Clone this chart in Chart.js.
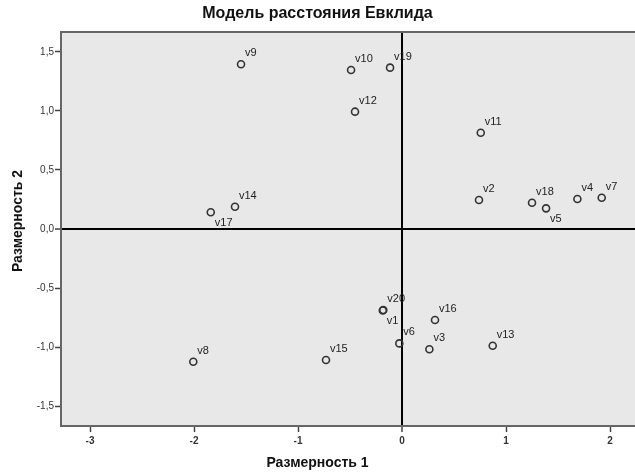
<!DOCTYPE html>
<html>
<head>
<meta charset="utf-8">
<script src="https://cdn.jsdelivr.net/npm/chart.js@4"></script>
<style>
  html, body { margin: 0; padding: 0; background: #fff; }
</style>
</head>
<body>
<canvas id="chart" width="635" height="473"></canvas>
<script>
// stimulus labels and their coordinates in the two dimensions
const pointNames = ['v1', 'v2', 'v3', 'v4', 'v5', 'v6', 'v7', 'v8', 'v9', 'v10',
                    'v11', 'v12', 'v13', 'v14', 'v15', 'v16', 'v17', 'v18', 'v19', 'v20'];
const dim1 = [-0.185, 0.74, 0.263, 1.686, 1.385, -0.026, 1.92, -2.007, -1.548, -0.49,
              0.757, -0.452, 0.872, -1.606, -0.731, 0.317, -1.839, 1.25, -0.115, -0.18];
const dim2 = [-0.69, 0.246, -1.019, 0.254, 0.175, -0.969, 0.265, -1.125, 1.396, 1.347,
              0.816, 0.994, -0.989, 0.189, -1.11, -0.771, 0.142, 0.223, 1.367, -0.686];
const xTicks = [-3, -2, -1, 0, 1, 2];
const yTicks = [-1.5, -1.0, -0.5, 0.0, 0.5, 1.0, 1.5];

const xTitle = 'Размерность 1';
const yTitle = 'Размерность 2';

// these labels sit under their marker instead of above it
const labelsBelow = ['v1', 'v5', 'v17'];

const FONT = "Arial, 'Liberation Sans', sans-serif";

const plotBackground = {
    id: 'plotBackground',
    beforeDraw(chart) {
        const { ctx, chartArea: a } = chart;
        ctx.save();
        ctx.fillStyle = '#e8e8e8';
        ctx.fillRect(a.left, a.top, a.right - a.left, a.bottom - a.top);
        ctx.restore();
    },
    beforeDatasetsDraw(chart) {
        const { ctx, chartArea: a } = chart;
        ctx.save();
        ctx.strokeStyle = '#666';
        ctx.lineWidth = 2;
        ctx.beginPath();
        ctx.moveTo(a.left, a.top);
        ctx.lineTo(a.right, a.top);
        ctx.stroke();
        ctx.restore();
    }
};

// axis titles are centred on the whole canvas in the original, not on the plot
const axisTitles = {
    id: 'axisTitles',
    afterDraw(chart) {
        const { ctx, width } = chart;
        ctx.save();
        ctx.font = 'bold 14px ' + FONT;
        ctx.fillStyle = '#111';
        ctx.textAlign = 'center';
        ctx.textBaseline = 'middle';
        ctx.fillText(xTitle, width / 2, 463);
        ctx.translate(18, 221);
        ctx.rotate(-Math.PI / 2);
        ctx.fillText(yTitle, 0, 0);
        ctx.restore();
    }
};

const pointLabels = {
    id: 'pointLabels',
    afterDatasetsDraw(chart) {
        const { ctx } = chart;
        const meta = chart.getDatasetMeta(0);
        ctx.save();
        ctx.font = '11px ' + FONT;
        ctx.fillStyle = '#222';
        ctx.textAlign = 'left';
        ctx.textBaseline = 'middle';
        meta.data.forEach((pt, i) => {
            const name = pointNames[i];
            const dy = labelsBelow.includes(name) ? 11 : -11;
            ctx.fillText(name, pt.x + 4, pt.y + dy);
        });
        ctx.restore();
    }
};

const zeroLine = (c) => c.tick && c.tick.value === 0 ? '#000' : 'rgba(0,0,0,0)';
const zeroWidth = (c) => c.tick && c.tick.value === 0 ? 2 : 1;

new Chart(document.getElementById('chart'), {
    type: 'scatter',
    data: {
        datasets: [{
            data: dim1.map((x, i) => ({ x: x, y: dim2[i] })),
            pointRadius: 3.5,
            pointBorderWidth: 1.6,
            borderColor: '#333',
            backgroundColor: 'rgba(0,0,0,0)'
        }]
    },
    options: {
        responsive: false,
        animation: false,
        devicePixelRatio: 1,
        layout: { autoPadding: false, padding: 0 },  // plot runs right up to the canvas edge
        plugins: {
            legend: { display: false },
            tooltip: { enabled: false },
            title: {
                display: true,
                text: 'Модель расстояния Евклида',
                color: '#111',
                font: { family: FONT, size: 16, weight: 'bold' },
                padding: { top: 4.4, bottom: 8.4 }
            }
        },
        scales: {
            x: {
                type: 'linear',
                min: -3.279,
                max: 2.24,
                afterFit: s => { s.height = 47; s.paddingLeft = 0; s.paddingRight = 0; },
                afterBuildTicks: s => { s.ticks = xTicks.map(v => ({ value: v })); },
                grid: {
                    color: zeroLine,
                    lineWidth: zeroWidth,
                    tickColor: '#444',
                    tickWidth: 1.5,
                    tickLength: 6
                },
                border: { display: true, color: '#666', width: 2 },
                ticks: {
                    padding: 3,
                    color: '#333',
                    font: { family: FONT, size: 10, weight: 'bold' },
                    callback: v => String(v)
                }
            },
            y: {
                type: 'linear',
                min: -1.669,
                max: 1.669,
                afterFit: s => { s.width = 61; s.paddingTop = 0; s.paddingBottom = 0; },
                afterBuildTicks: s => { s.ticks = yTicks.map(v => ({ value: v })); },
                grid: {
                    color: zeroLine,
                    lineWidth: zeroWidth,
                    tickColor: '#444',
                    tickWidth: 1.5,
                    tickLength: 6
                },
                border: { display: true, color: '#666', width: 2 },
                ticks: {
                    padding: 1,
                    color: '#333',
                    font: { family: FONT, size: 10 },
                    callback: v => v.toFixed(1).replace('.', ',')
                }
            }
        }
    },
    plugins: [plotBackground, pointLabels, axisTitles]
});
</script>
</body>
</html>
